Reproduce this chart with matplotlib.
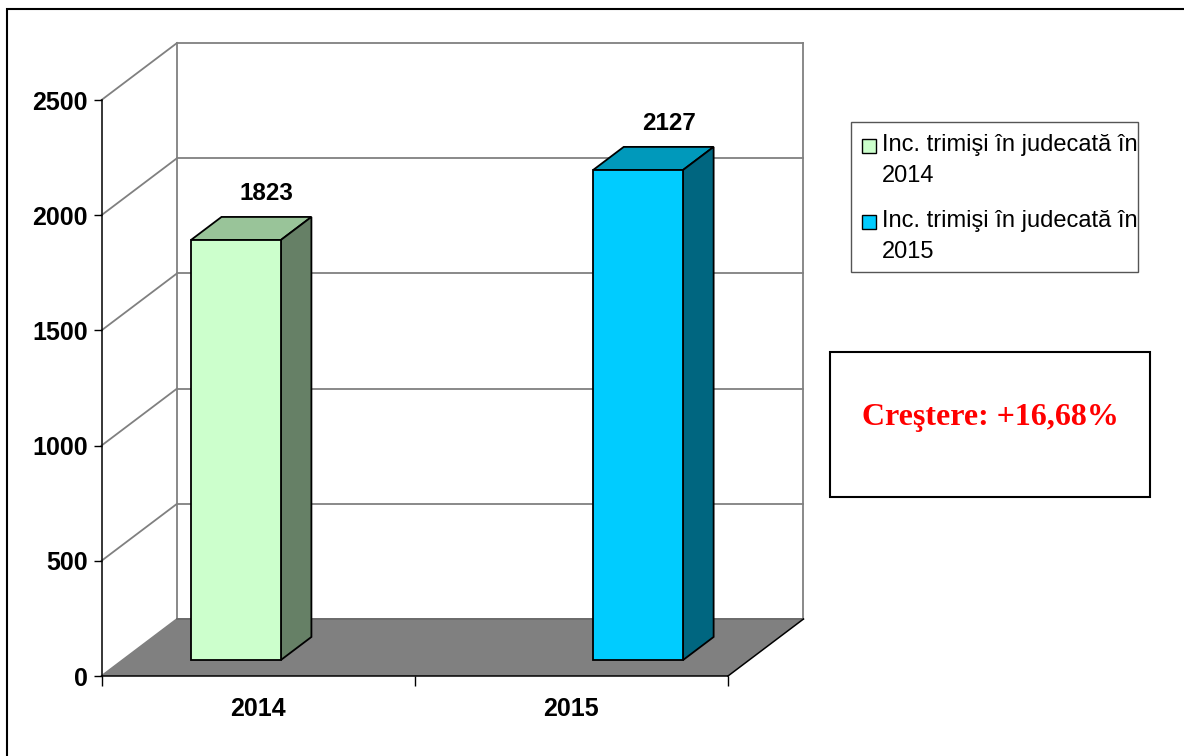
"""3D-style column chart: Inc. trimisi in judecata 2014 vs 2015."""

import matplotlib

matplotlib.use("Agg")
import matplotlib.pyplot as plt
from matplotlib.patches import Polygon, Rectangle
from matplotlib.transforms import ScaledTranslation

years = ["2014", "2015"]
values = [1823, 2127]
series_labels = ["Inc. trimişi în judecată în\n2014", "Inc. trimişi în judecată în\n2015"]
y_ticks = [0, 500, 1000, 1500, 2000, 2500]
growth_text = "Creştere: +16,68%"

front_colors = ["#CCFFCC", "#00CCFF"]
top_colors = ["#99C499", "#0099BB"]
side_colors = ["#668066", "#006680"]

W, H, DPI = 1184, 756, 100
# depth of the 3D box (inches) and the depth span occupied by the bars
DEPTH_X, DEPTH_Y = 0.755, 0.57
BAR_DEPTH = (0.28, 0.685)
BAR_LEFT = [0.218, 1.502]
BAR_WIDTH = 0.287
GRID = "#808080"

fig = plt.figure(figsize=(W / DPI, H / DPI), dpi=DPI)
ax = fig.add_axes([101.5 / W, 80 / H, (728 - 101.5) / W, 576 / H])
ax.set_xlim(0, 2)
ax.set_ylim(0, 2500)
ax.patch.set_visible(False)


def depth_trans(frac):
    return ax.transData + ScaledTranslation(DEPTH_X * frac, DEPTH_Y * frac, fig.dpi_scale_trans)


def pt(x, v, frac):
    disp = depth_trans(frac).transform((x, v))
    return ax.transData.inverted().transform(disp)


# back wall and left wall grid
for v in y_ticks:
    ax.plot([0, 2], [v, v], color=GRID, lw=1.3, transform=depth_trans(1), clip_on=False, zorder=1)
    a, b = pt(0, v, 0), pt(0, v, 1)
    ax.plot([a[0], b[0]], [a[1], b[1]], color=GRID, lw=1.3, clip_on=False, zorder=1)
for x in [0, 2]:
    ax.plot([x, x], [0, 2500], color=GRID, lw=1.3, transform=depth_trans(1), clip_on=False, zorder=1)

# floor
floor = [pt(0, 0, 0), pt(2, 0, 0), pt(2, 0, 1), pt(0, 0, 1)]
ax.add_patch(Polygon(floor, closed=True, facecolor="#808080", edgecolor="none", clip_on=False, zorder=2))
ax.plot([0, 2], [0, 0], color="#6a6a6a", lw=1.3, transform=depth_trans(1), clip_on=False, zorder=2)
a, b = pt(2, 0, 0), pt(2, 0, 1)
ax.plot([a[0], b[0]], [a[1], b[1]], color="black", lw=1.1, clip_on=False, zorder=3)

# bars
f0, f1 = BAR_DEPTH
for i, v in enumerate(values):
    x0 = BAR_LEFT[i]
    x1 = x0 + BAR_WIDTH
    ax.add_patch(Rectangle((x0, 0), BAR_WIDTH, v, transform=depth_trans(f0), facecolor=front_colors[i],
                           edgecolor="black", lw=1.3, clip_on=False, zorder=5))
    top = [pt(x0, v, f0), pt(x1, v, f0), pt(x1, v, f1), pt(x0, v, f1)]
    ax.add_patch(Polygon(top, closed=True, facecolor=top_colors[i], edgecolor="black", lw=1.3,
                         clip_on=False, zorder=4))
    side = [pt(x1, 0, f0), pt(x1, v, f0), pt(x1, v, f1), pt(x1, 0, f1)]
    ax.add_patch(Polygon(side, closed=True, facecolor=side_colors[i], edgecolor="black", lw=1.3,
                         clip_on=False, zorder=4))
    lab = pt(x0 + BAR_WIDTH / 2, v, f1)
    ax.annotate(str(v), xy=lab, xytext=(0, 8.5), textcoords="offset points", ha="center", va="bottom",
                fontsize=17.5, fontweight="bold", family="Liberation Sans", zorder=6)

# axes
for side_name in ["top", "right"]:
    ax.spines[side_name].set_visible(False)
for side_name in ["left", "bottom"]:
    ax.spines[side_name].set_linewidth(1.1)
    ax.spines[side_name].set_zorder(3)
ax.set_yticks(y_ticks)
ax.set_yticklabels([str(t) for t in y_ticks], fontsize=18, fontweight="bold", family="Liberation Sans")
ax.tick_params(axis="y", length=6, width=1, pad=4)
ax.set_xticks([0, 1, 2])
ax.set_xticklabels([])
ax.tick_params(axis="x", which="major", length=7, width=1)
ax.set_xticks([0.5, 1.5], minor=True)
ax.set_xticklabels(years, minor=True, fontsize=18, fontweight="bold", family="Liberation Sans")
ax.tick_params(axis="x", which="minor", length=0, pad=15)

# legend
fig.add_artist(Rectangle((851 / W, 1 - 272 / H), (1138 - 851) / W, 150 / H, transform=fig.transFigure,
                         facecolor="white", edgecolor="#555555", lw=1))
for i, label in enumerate(series_labels):
    y_top = 139 + i * 76
    fig.add_artist(Rectangle((862 / W, 1 - (y_top + 14) / H), 14 / W, 14 / H, transform=fig.transFigure,
                             facecolor=front_colors[i], edgecolor="black", lw=1))
    fig.text(882 / W, 1 - (y_top - 5) / H, label, ha="left", va="top", fontsize=17,
             family="Liberation Sans", linespacing=1.5)

# growth box
fig.add_artist(Rectangle((830 / W, 1 - 497 / H), 320 / W, 145 / H, transform=fig.transFigure,
                         facecolor="white", edgecolor="black", lw=1.5))
fig.text(990 / W, 1 - 418 / H, growth_text, ha="center", va="center", fontsize=23, fontweight="bold",
         color="red", family="Liberation Serif")

# outer frame
fig.add_artist(Rectangle((7 / W, -0.1), 1.2, 1 - 9 / H + 0.1, transform=fig.transFigure,
                         facecolor="none", edgecolor="black", lw=1.5))

fig.savefig("out.png", dpi=DPI)
